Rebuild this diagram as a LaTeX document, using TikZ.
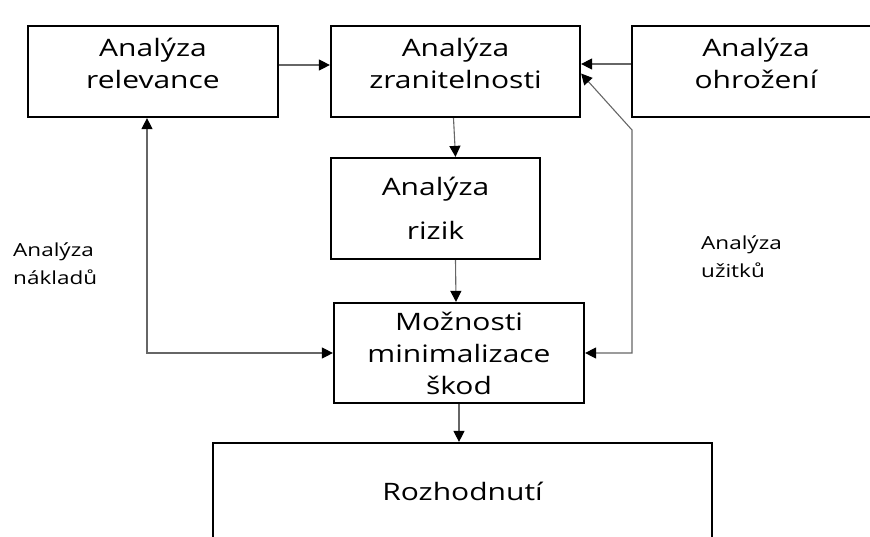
\documentclass[tikz,border=0pt]{standalone}
\usepackage{fontspec}
\setmainfont{Open Sans}[FakeStretch=1.25]
\usetikzlibrary{arrows.meta}

\begin{document}
\begin{tikzpicture}[x=1pt, y=-1pt,
		box/.style={draw, line width=2.2pt, inner sep=0pt, align=center, font=\fontsize{24}{32}\selectfont},
		top/.style={box, minimum height=91pt, text depth=17pt},
		note/.style={inner sep=0pt, align=left, font=\fontsize{18}{28}\selectfont},
		conn/.style={draw=black!60, line width=1.1pt, -{Triangle[length=11pt, width=11pt, color=black]}},
		both/.style={draw=black!60, line width=1.1pt, {Triangle[length=11pt, width=11pt, color=black]}-{Triangle[length=11pt, width=11pt, color=black]}}]
			\useasboundingbox (0, 0) rectangle (870, 536);
			\clip (0, 0) rectangle (870, 536);

			\draw (153, 71.5) 	node[top, minimum width=250pt] 	(relevance) 	{Analýza\\relevance};
			\draw (455.5, 71.5) 	node[top, minimum width=249pt] 	(zranitelnost) 	{Analýza\\zranitelnosti};
			\draw (756, 71.5) 	node[top, minimum width=248pt] 	(ohrozeni) 	{Analýza\\ohrožení};
			\draw (435.5, 208.5) 	node[box, minimum width=209pt, minimum height=101pt] 	(rizika) 	{Analýza\\[12pt]rizik};
			\draw (459, 353) 	node[box, minimum width=250pt, minimum height=100pt] 	(minimalizace) 	{Možnosti\\minimalizace\\škod};
			\draw (462.5, 491.5) 	node[box, minimum width=499pt, minimum height=97pt] 	(rozhodnuti) 	{Rozhodnutí};
			\draw (13, 243) 	node[note, anchor=north west] 	(naklady) 	{Analýza\\nákladů};
			\draw (701, 236) 	node[note, anchor=north west] 	(uzitky) 	{Analýza\\užitků};

			\coordinate (lc) at (147, 353);
			\coordinate (ru) at (632, 130);
			\coordinate (rd) at (632, 353);

			\draw[conn] ([yshift=6.5pt]relevance.east) -- ([yshift=6.5pt]zranitelnost.west);
			\draw[conn] ([yshift=7.5pt]ohrozeni.west) -- ([yshift=7.5pt]zranitelnost.east);
			\draw[both] ([yshift=-2pt]zranitelnost.east) -- (ru) -- (rd) -- (minimalizace.east);
			\draw[both] (relevance.south -| lc) -- (lc) -- (minimalizace.west);
			\draw[conn] ([xshift=-2pt]zranitelnost.south) -- ([xshift=20pt]rizika.north);
			\draw[conn] ([xshift=20pt]rizika.south) -- ([xshift=-3pt]minimalizace.north);
			\draw[conn] (minimalizace.south) -- (minimalizace.south |- rozhodnuti.north);
		\end{tikzpicture}
\end{document}
